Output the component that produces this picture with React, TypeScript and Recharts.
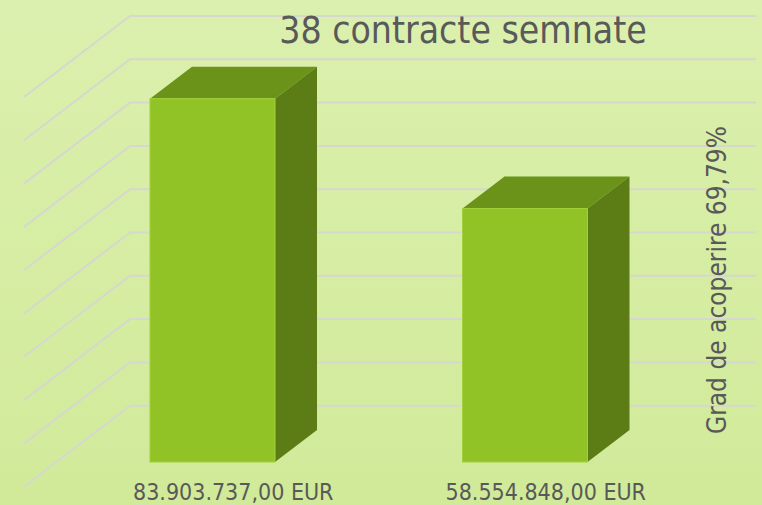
import { BarChart, Bar, XAxis, YAxis, CartesianGrid } from "recharts";

const categories = ["83.903.737,00 EUR", "58.554.848,00 EUR"];
const amounts = [83903737, 58554848];
const yTicks = [0, 10e6, 20e6, 30e6, 40e6, 50e6, 60e6, 70e6, 80e6, 90e6, 100e6];
const title = "38 contracte semnate";
const sideNote = "Grad de acoperire 69,79%";

const data = categories.map((name, i) => ({ name, value: amounts[i] }));

const FONT = "'DejaVu Sans Condensed', 'DejaVu Sans', sans-serif";
const TEXT = "#595959";
const DEPTH_X = 42;
const DEPTH_Y = 32;

// 3d box: front face lowered a bit, back face pushed up/right
function Box3D(props: any) {
  const { x, y, width, height } = props;
  const fy = y + 13;
  const w = width;
  const h = height;
  const top = `${x},${fy} ${x + DEPTH_X},${fy - DEPTH_Y} ${x + w + DEPTH_X},${fy - DEPTH_Y} ${x + w},${fy}`;
  const side = `${x + w},${fy} ${x + w + DEPTH_X},${fy - DEPTH_Y} ${x + w + DEPTH_X},${fy + h - DEPTH_Y} ${x + w},${fy + h}`;
  return (
    <g>
      <polygon points={top} fill="#6b9219" />
      <polygon points={side} fill="#5c7c15" />
      <rect x={x} y={fy} width={w} height={h} fill="#92c326" stroke="#a2d03a" strokeWidth={1} />
    </g>
  );
}

// wall gridline plus the diagonal on the side wall
function GridLine(props: any) {
  const { x1, x2, y1, index } = props;
  if (Math.abs(y1 - 449) < 2) return <g key={`g${index}`} />;
  const wx = x1 + 74;
  return (
    <path
      key={`g${index}`}
      d={`M${wx - 106},${y1 + 81} L${wx},${y1} L${x2 + 75},${y1}`}
      stroke="#d6d8d0"
      strokeWidth={2}
      fill="none"
    />
  );
}

function Tick(props: any) {
  const { x, payload } = props;
  return (
    <text x={x + 21} y={500} textAnchor="middle" fontFamily={FONT} fontSize={23} fill={TEXT}>
      {payload.value}
    </text>
  );
}

export default function App() {
  return (
    <div
      style={{
        position: "absolute",
        left: 0,
        top: 0,
        width: 762,
        height: 505,
        background: "linear-gradient(180deg, #dbf0ae 0%, #d1ea99 100%)",
      }}
    >
      <BarChart width={762} height={505} data={data} margin={{ top: 16, right: 81, bottom: 0, left: 56 }}>
        <CartesianGrid vertical={false} horizontal={GridLine} />
        <XAxis dataKey="name" height={56} axisLine={false} tickLine={false} tick={<Tick />} interval={0} />
        <YAxis hide domain={[0, 100e6]} ticks={yTicks} />
        <Bar dataKey="value" barSize={125} shape={<Box3D />} isAnimationActive={false} />
      </BarChart>
      <svg width={762} height={505} style={{ position: "absolute", left: 0, top: 0, pointerEvents: "none" }}>
        <text x={463} y={43} textAnchor="middle" fontFamily={FONT} fontSize={37} fill={TEXT}>
          {title}
        </text>
        <text
          transform="translate(726,280) rotate(-90)"
          textAnchor="middle"
          fontFamily={FONT}
          fontSize={26}
          fill={TEXT}
        >
          {sideNote}
        </text>
      </svg>
    </div>
  );
}
